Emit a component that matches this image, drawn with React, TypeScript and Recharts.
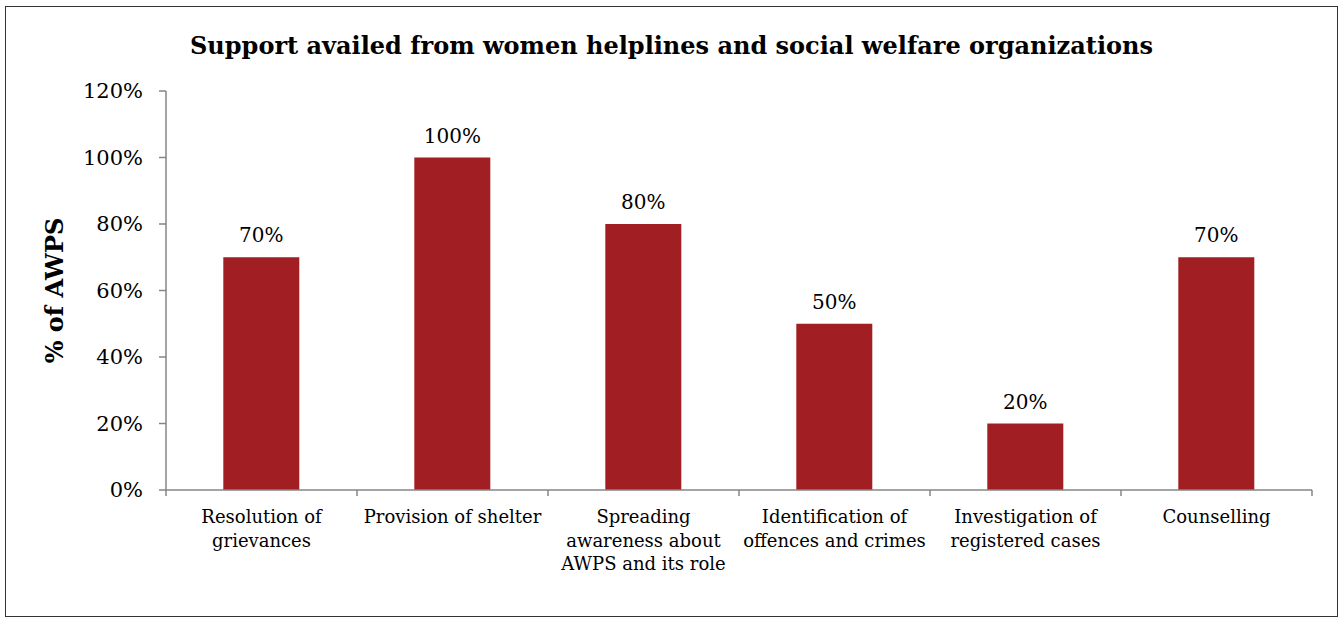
import { BarChart, Bar, XAxis, YAxis, LabelList, Label } from "recharts";

const categories = [
  "Resolution of\ngrievances",
  "Provision of shelter",
  "Spreading\nawareness about\nAWPS and its role",
  "Identification of\noffences and crimes",
  "Investigation of\nregistered cases",
  "Counselling",
];
const shares = [70, 100, 80, 50, 20, 70];
const yTicks = [0, 20, 40, 60, 80, 100, 120];

const FONT = "'DejaVu Serif', Georgia, serif";
const AXIS = "#868686";
const BAR = "#A11F22";

const data = categories.map((name, i) => ({ name, value: shares[i] }));

// category label, plus the tick marks that sit on the band edges
const CategoryTick = (props: any) => {
  const { x, y, payload, index, visibleTicksCount, width } = props;
  const half = payload.offset || width / visibleTicksCount / 2;
  const lines = String(payload.value).split("\n");
  return (
    <g>
      <line x1={x - half} x2={x - half} y1={y} y2={y + 6} stroke={AXIS} strokeWidth={1.5} />
      {index === visibleTicksCount - 1 && (
        <line x1={x + half} x2={x + half} y1={y} y2={y + 6} stroke={AXIS} strokeWidth={1.5} />
      )}
      <text x={x} y={y + 33} textAnchor="middle" fontFamily={FONT} fontSize={18} fill="#000">
        {lines.map((l, i) => (
          <tspan key={i} x={x} dy={i === 0 ? 0 : 23.5}>
            {l}
          </tspan>
        ))}
      </text>
    </g>
  );
};

export default function App() {
  return (
    <div
      style={{
        position: "absolute",
        left: 5,
        top: 6,
        width: 1331,
        height: 609,
        border: "1px solid #333",
        background: "#fff",
      }}
    >
      <div
        style={{
          position: "absolute",
          top: 25,
          left: 0,
          width: "100%",
          textAlign: "center",
          fontFamily: FONT,
          fontWeight: "bold",
          fontSize: 24,
          lineHeight: "27px",
          color: "#000",
        }}
      >
        Support availed from women helplines and social welfare organizations
      </div>
      <BarChart
        width={1331}
        height={609}
        data={data}
        margin={{ top: 84, right: 25, bottom: 0, left: 80 }}
        barCategoryGap="30%"
      >
        <XAxis
          dataKey="name"
          interval={0}
          height={126}
          tickLine={false}
          tickSize={0}
          tickMargin={0}
          axisLine={{ stroke: AXIS, strokeWidth: 1.5 }}
          tick={<CategoryTick />}
        />
        <YAxis
          width={80}
          domain={[0, 120]}
          ticks={yTicks}
          interval={0}
          tickFormatter={(v) => `${v}%`}
          axisLine={{ stroke: AXIS, strokeWidth: 1.5 }}
          tickLine={{ stroke: AXIS, strokeWidth: 1.5 }}
          tickSize={7}
          tickMargin={16}
          tick={{ fill: "#000", fontFamily: FONT, fontSize: 21 }}
        >
          <Label
            value="% of AWPS"
            angle={-90}
            position="insideLeft"
            offset={-32}
            style={{ textAnchor: "middle", fontFamily: FONT, fontWeight: "bold", fontSize: 24, fill: "#000" }}
          />
        </YAxis>
        <Bar dataKey="value" fill={BAR} isAnimationActive={false}>
          <LabelList
            dataKey="value"
            position="top"
            offset={15}
            formatter={(v: any) => `${v}%`}
            style={{ fontFamily: FONT, fontSize: 20, fill: "#000" }}
          />
        </Bar>
      </BarChart>
    </div>
  );
}
